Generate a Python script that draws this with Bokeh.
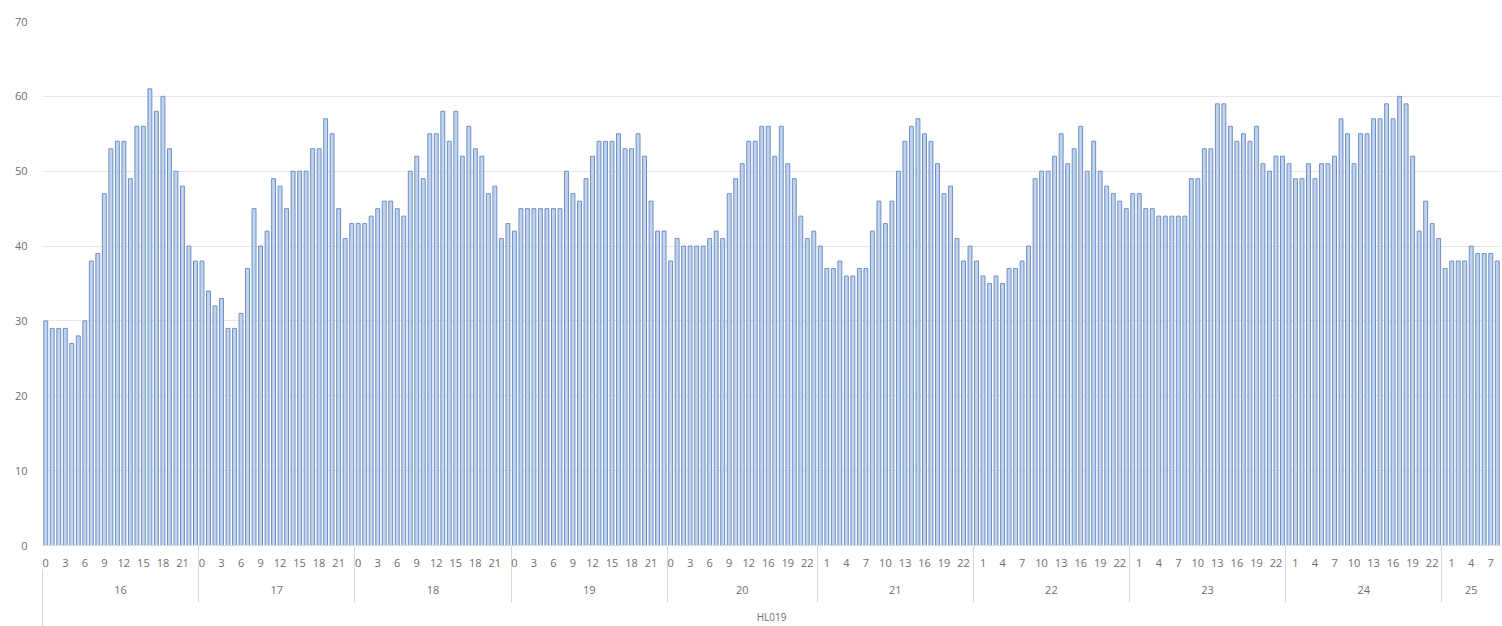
from bokeh.plotting import figure
from bokeh.models import FixedTicker, LinearAxis, Range1d
from bokeh.embed import file_html
from bokeh.resources import INLINE

# ---- data ----
days = ["16", "17", "18", "19", "20", "21", "22", "23", "24", "25"]
hours_full = list(range(24))
hours_20 = [0, 1, 2, 3, 4, 5, 6, 7, 8, 9, 10, 11, 12, 14, 15, 16, 17, 18, 19, 20, 21, 22, 23]
hours_25 = [0, 1, 2, 3, 4, 5, 6, 7, 8]
day_hours = [hours_full, hours_full, hours_full, hours_full, hours_20,
             hours_full, hours_full, hours_full, hours_full, hours_25]

v16 = [30, 29, 29, 29, 27, 28, 30, 38, 39, 47, 53, 54, 54, 49, 56, 56, 61, 58, 60, 53, 50, 48, 40, 38]
v17 = [38, 34, 32, 33, 29, 29, 31, 37, 45, 40, 42, 49, 48, 45, 50, 50, 50, 53, 53, 57, 55, 45, 41, 43]
v18 = [43, 43, 44, 45, 46, 46, 45, 44, 50, 52, 49, 55, 55, 58, 54, 58, 52, 56, 53, 52, 47, 48, 41, 43]
v19 = [42, 45, 45, 45, 45, 45, 45, 45, 50, 47, 46, 49, 52, 54, 54, 54, 55, 53, 53, 55, 52, 46, 42, 42]
v20 = [38, 41, 40, 40, 40, 40, 41, 42, 41, 47, 49, 51, 54, 54, 56, 56, 52, 56, 51, 49, 44, 41, 42]
v21 = [40, 37, 37, 38, 36, 36, 37, 37, 42, 46, 43, 46, 50, 54, 56, 57, 55, 54, 51, 47, 48, 41, 38, 40]
v22 = [38, 36, 35, 36, 35, 37, 37, 38, 40, 49, 50, 50, 52, 55, 51, 53, 56, 50, 54, 50, 48, 47, 46, 45]
v23 = [47, 47, 45, 45, 44, 44, 44, 44, 44, 49, 49, 53, 53, 59, 59, 56, 54, 55, 54, 56, 51, 50, 52, 52]
v24 = [51, 49, 49, 51, 49, 51, 51, 52, 57, 55, 51, 55, 55, 57, 57, 59, 57, 60, 59, 52, 42, 46, 43, 41]
v25 = [37, 38, 38, 38, 40, 39, 39, 39, 38]
day_values = [v16, v17, v18, v19, v20, v21, v22, v23, v24, v25]

y_ticks = [0, 10, 20, 30, 40, 50, 60, 70]
axis_title = "HL019"

# ---- build positions ----
xs, tops, hour_of = [], [], []
day_centers, boundaries = [], []
idx = 0
for d, hrs, vals in zip(days, day_hours, day_values):
    start = idx
    for h, v in zip(hrs, vals):
        xs.append(idx)
        tops.append(v)
        hour_of.append(h)
        idx += 1
    day_centers.append((start + idx - 1) / 2.0)
    boundaries.append(idx - 0.5)
n = idx
boundaries = boundaries[:-1]

hour_ticks = list(range(0, n, 3))
hour_labels = {i: str(hour_of[i]) for i in hour_ticks}
day_labels = {c: d for c, d in zip(day_centers, days)}

FONT = "Open Sans"
TXT = "#6e6e6e"
LINE = "#d9d9d9"

p = figure(width=1502, height=626, output_backend="svg", toolbar_location=None,
           x_range=Range1d(-0.5, n - 0.5), y_range=Range1d(0, 70),
           min_border_left=42, min_border_right=2, min_border_top=21, min_border_bottom=81)
p.outline_line_color = None
p.background_fill_color = "white"

p.vbar(x=xs, top=tops, width=0.6, fill_color="#c0d3ef", line_color="#6e8fc4", line_width=1)

# y axis
ya = p.yaxis[0]
ya.ticker = FixedTicker(ticks=y_ticks)
ya.axis_line_color = None
ya.major_tick_line_color = None
ya.minor_tick_line_color = None
ya.major_label_text_font = FONT
ya.major_label_text_font_size = "11px"
ya.major_label_text_color = TXT
ya.major_label_standoff = 9

p.xgrid.visible = False
p.ygrid.ticker = FixedTicker(ticks=y_ticks)
p.ygrid.grid_line_color = "#e6e6e6"

# hour axis (separators drawn as inverted minor ticks so they don't take layout space)
xa = p.xaxis[0]
xa.ticker = FixedTicker(ticks=hour_ticks, minor_ticks=boundaries)
xa.major_label_overrides = hour_labels
xa.axis_line_color = LINE
xa.major_tick_line_color = None
xa.major_tick_out = 0
xa.major_tick_in = 0
xa.minor_tick_out = 0
xa.minor_tick_in = -57
xa.minor_tick_line_color = LINE
xa.major_label_text_font = FONT
xa.major_label_text_font_size = "11px"
xa.major_label_text_color = TXT
xa.major_label_standoff = 13

# day axis
da = LinearAxis(ticker=FixedTicker(ticks=day_centers, minor_ticks=[-0.5]))
da.major_label_overrides = day_labels
da.axis_line_color = None
da.major_tick_line_color = None
da.major_tick_out = 0
da.major_tick_in = 0
da.minor_tick_out = 0
da.minor_tick_in = -70
da.minor_tick_line_color = LINE
da.major_label_text_font = FONT
da.major_label_text_font_size = "11px"
da.major_label_text_color = TXT
da.major_label_standoff = 16
da.axis_label = axis_title
da.axis_label_text_font = FONT
da.axis_label_text_font_size = "10px"
da.axis_label_text_font_style = "normal"
da.axis_label_text_color = TXT
da.axis_label_standoff = 13
p.add_layout(da, "below")

open("out.html", "w").write(file_html(p, INLINE))
